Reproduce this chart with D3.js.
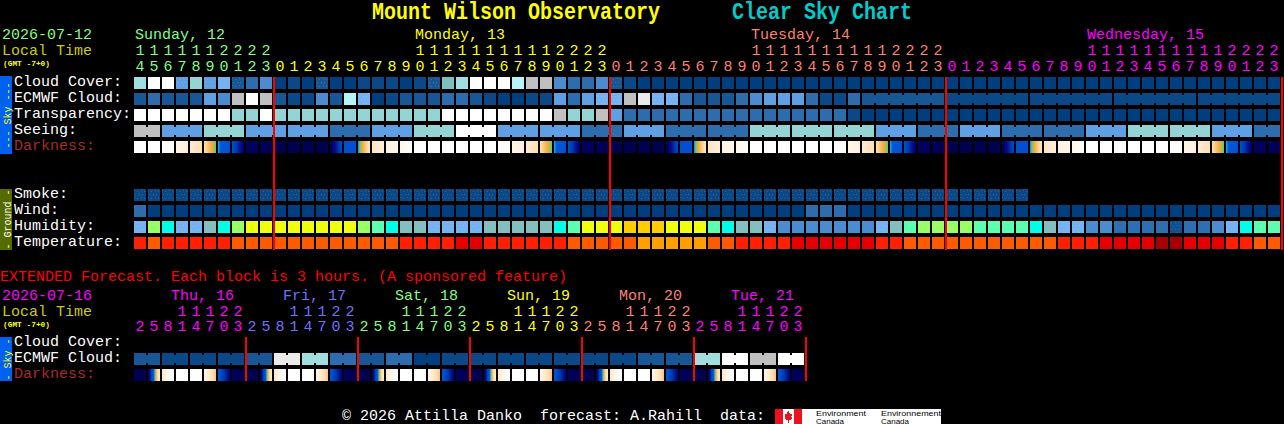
<!DOCTYPE html>
<html><head><meta charset="utf-8">
<script src="https://cdn.jsdelivr.net/npm/d3@7/dist/d3.min.js"></script>
<style>
html,body{margin:0;padding:0;background:#000;overflow:hidden}
svg{display:block}
text{font-family:"Liberation Mono",monospace;font-size:15px;white-space:pre}
</style></head><body>
<svg id="c" width="1284" height="424"></svg>
<script>
const hours=[14,15,16,17,18,19,20,21,22,23,0,1,2,3,4,5,6,7,8,9,10,11,12,13,14,15,16,17,18,19,20,21,22,23,0,1,2,3,4,5,6,7,8,9,10,11,12,13,14,15,16,17,18,19,20,21,22,23,0,1,2,3,4,5,6,7,8,9,10,11,12,13,14,15,16,17,18,19,20,21,22,23];
const cloudCover=[9,13,13,5,8,5,6,2,3,4,0,1,0,2,0,0,1,1,1,0,1,2,7,9,13,13,13,10,11,11,4,3,3,4,2,1,0,0,0,0,0,0,0,0,0,0,0,0,0,0,0,0,0,0,0,0,0,0,0,0,0,0,0,0,0,0,0,0,0,0,0,0,0,0,0,0,0,0,0,0,0,0];
const ecmwfCloud=[2,3,2,2,2,5,4,11,13,11,2,1,1,4,2,10,6,0,1,2,2,2,3,3,2,1,0,0,1,1,5,3,5,6,6,11,12,6,6,3,2,2,2,3,4,5,5,5,3,1,1,3,2,2,2,2,2,2,1,1,1,1,1,1,1,1,1,1,1,1,1,1,1,1,1,1,1,1,1,1,1,1];
const transparency=[13,13,13,13,13,13,13,8,8,13,8,8,8,8,8,8,8,8,8,8,8,8,13,13,13,13,13,13,13,13,11,8,8,11,5,3,3,3,3,3,3,3,3,3,3,3,3,3,3,3,3,1,0,0,0,0,0,0,0,0,0,0,0,0,0,0,0,0,0,0,0,0,0,0,0,0,0,0,0,0,0,0];
const seeing=[11,11,5,5,5,8,8,8,5,5,5,5,5,5,3,3,3,5,5,5,8,8,8,13,13,13,5,5,5,5,5,5,3,3,3,5,5,5,3,3,3,3,3,3,8,8,8,8,8,8,8,8,8,5,5,5,3,3,3,5,5,5,3,3,3,3,3,3,5,5,5,8,8,8,8,8,8,5,5,5,3,3];
const darkLeft=[0,0,0,1,2,3,5,6.3,8.4,8.8,9,9,9,9,8.5,6.2,5,2.4,1.4,.8,0,0,0,0,0,0,0,1,2,3,5,6.3,8.4,8.8,9,9,9,9,8.5,6.2,5,2.4,1.4,.8,0,0,0,0,0,0,0,1,2,3,5,6.3,8.4,8.8,9,9,9,9,8.5,6.2,5,2.4,1.4,.8,0,0,0,0,0,0,0,1,2,3,5,6.3,8.4,8.8];
const darkRight=[0,0,.5,1.8,2.8,4.7,6.2,8.2,8.6,8.8,9,9,9,9,6.6,6.2,2.6,1.6,1,.3,0,0,0,0,0,0,.5,1.6,2.8,4.7,6.2,8.2,8.6,8.8,9,9,9,9,6.6,6.2,2.6,1.6,1,.3,0,0,0,0,0,0,.5,1.6,2.8,4.7,6.2,8.2,8.6,8.8,9,9,9,9,6.6,6.2,2.6,1.6,1,.3,0,0,0,0,0,0,.5,1.6,2.8,4.7,6.2,8.2,8.6,8.8];
const smoke=[1,1,1,1,1,1,1,1,1,1,1,1,1,1,1,1,1,1,1,1,1,1,1,1,1,1,1,1,1,1,1,1,1,1,1,1,1,1,1,1,1,1,1,1,1,1,1,1,1,1,1,1,1,1,1,1,1,1,1,1,1,1,1,1];
const wind=[3,0,0,0,0,0,0,0,0,0,0,0,0,0,0,0,0,0,0,0,0,0,0,0,0,0,0,0,0,0,0,0,0,0,0,0,0,0,0,0,0,0,0,0,0,0,0,0,3,3,3,0,0,0,0,0,0,0,0,0,0,0,0,0,0,0,0,0,0,0,0,0,0,0,0,0,0,0,0,0,0,0];
const humidity=[3,7,5,3,3,4,5,7,8,8,8,8,8,8,8,8,7,6,5,4,4,3,3,3,3,4,4,4,4,4,5,6,8,8,8,9,9,9,8,8,8,6,5,4,4,3,2,2,2,2,2,2,2,3,4,6,7,7,7,7,6,6,6,6,5,4,3,3,2,2,1,1,1,1,0,1,1,2,3,5,6,6];
const temperature=[3,4,3,3,3,3,3,4,4,4,4,4,4,4,4,4,4,4,4,3,3,3,3,2,2,3,3,3,3,3,3,4,4,4,4,4,5,5,5,5,5,4,4,3,3,3,3,2,2,2,2,2,2,3,3,4,4,4,4,4,4,4,4,4,4,4,3,3,3,2,2,2,2,1,1,2,2,2,3,3,4,4];
const extHours=[2,5,8,11,14,17,20,23,2,5,8,11,14,17,20,23,2,5,8,11,14,17,20,23,2,5,8,11,14,17,20,23,2,5,8,11,14,17,20,23,2,5,8,11,14,17,20,23];
const extEcmwf=[2,1,1,1,2,12,9,3,2,3,0,1,1,1,1,1,1,1,2,2,9,13,11,13];
const extDarkLeft=[9,8.5,2,0,0,1,6,8.5,9,8.5,2,0,0,1,6,8.5,9,8.5,2,0,0,1,6,8.5,9,8.5,2,0,0,1,6,8.5,9,8.5,2,0,0,1,6,8.5,9,8.5,2,0,0,1,6,8.5];
const extDarkRight=[9,2,0,0,0,3.5,8,9,9,2,0,0,0,3.5,8,9,9,2,0,0,0,3.5,8,9,9,2,0,0,0,3.5,8,9,9,2,0,0,0,3.5,8,9,9,2,0,0,0,3.5,8,9];
const dayLabels=["Sunday, 12","Monday, 13","Tuesday, 14","Wednesday, 15"];
const dayLabelCols=[0,20,44,68];
const dayFirstCols=[0,10,34,58];
const extDayLabels=["Thu, 16","Fri, 17","Sat, 18","Sun, 19","Mon, 20","Tue, 21"];
const skyRows=["Cloud Cover:","ECMWF Cloud:","Transparency:","Seeing:","Darkness:"];
const groundRows=["Smoke:","Wind:","Humidity:","Temperature:"];
const extRows=["Cloud Cover:","ECMWF Cloud:","Darkness:"];

const cloudColors=["#003f7f","#0a4888","#175796","#2d6dad","#4b8bd0","#5f9fe3","#74b2f2","#80bfbf","#95d4d4","#a0dfdf","#b5f5f5","#c0c0c0","#eaeaea","#ffffff"];
const humidColors=["#0f5090","#2d6fb0","#4b8bd0","#74b2f2","#84bfbf","#00ffe8","#5affb0","#99ff66","#eeff10","#ffcc00"];
const tempColors=["#800000","#a80000","#e40000","#ff2000","#ff5a00","#ffa000"];
const green="#80ff80",yel="#ffff00",pink="#ff8070",mag="#ff00ff",blu="#7070ff";

const cloudScale=d3.scaleOrdinal(d3.range(cloudColors.length),cloudColors);
const humidScale=d3.scaleOrdinal(d3.range(humidColors.length),humidColors);
const tempScale=d3.scaleOrdinal(d3.range(tempColors.length),tempColors);
const darkScale=d3.scaleLinear()
 .domain([0,1,2,3,4,4.7,4.9,5,5.2,6.2,7,7.6,8.2,9])
 .range(["#ffffff","#fff6ea","#ffeacf","#ffdcab","#ffae40","#80c060","#20b0c0","#00a8f0","#0058dc","#0050d0","#0038b4","#001490","#000068","#000050"]);

const x=d3.scaleLinear().domain([0,82]).range([134,1282]);
const BW=12,BH=12;
const svg=d3.select("#c");
const defs=svg.append("defs");
const pat=defs.append("pattern").attr("id","sp").attr("width",7).attr("height",7).attr("patternUnits","userSpaceOnUse");
[[1,1],[4,2],[6,5],[2,5]].forEach(([a,b])=>pat.append("rect").attr("x",a).attr("y",b).attr("width",1).attr("height",1).attr("fill","#ffffff").attr("fill-opacity",.14));
const g=svg.append("g").attr("shape-rendering","crispEdges");

function text(t,px,py,fill,o={}){
 const e=svg.append("text").attr("x",px).attr("y",py).attr("fill",fill).text(t)
  .style("font-size",(o.size||15)+"px").style("font-weight",o.bold?"bold":null)
  .style("font-family",o.family||null)
  .attr("text-anchor",o.anchor||"start");
 if(o.fit)e.attr("textLength",o.fit).attr("lengthAdjust","spacingAndGlyphs");
 return e;
}
function row(values,scale,y,bridge,speckled){
 const r=g.append("g");
 r.selectAll("rect.b").data(values).join("rect").attr("class","b")
  .attr("x",(d,i)=>x(i)).attr("y",y).attr("width",BW).attr("height",BH).attr("fill",d=>scale(d));
 r.selectAll("rect.n").data(values.map((d,i)=>({d,i})).filter(e=>bridge&&bridge(e.i)&&e.i<values.length-1)).join("rect").attr("class","n")
  .attr("x",e=>x(e.i)+BW).attr("y",y+2).attr("width",x(1)-x(0)-BW).attr("height",BH-4).attr("fill",e=>scale(e.d));
 if(speckled)r.selectAll("rect.s").data(values.map((d,i)=>({d,i})).filter(e=>speckled.includes(e.d))).join("rect").attr("class","s")
  .attr("x",e=>x(e.i)).attr("y",y).attr("width",BW).attr("height",BH).attr("fill","url(#sp)");
}
function darkRow(left,right,y){
 const r=g.append("g");
 left.forEach((l,i)=>{
  const t=d3.scaleLinear().domain([0,BW-1]).range([l,right[i]]);
  r.selectAll(null).data(d3.range(BW)).join("rect")
   .attr("x",p=>x(i)+p).attr("y",y).attr("width",1).attr("height",BH).attr("fill",p=>darkScale(t(p)));
 });
}
function sidebar(y0,y1,fill,label,color,cy){
 g.append("rect").attr("x",0).attr("y",y0).attr("width",12).attr("height",y1-y0).attr("fill",fill);
 svg.append("text").attr("transform",`translate(10.5,${cy}) rotate(-90)`).attr("text-anchor","middle")
  .attr("fill",color).style("font-size","10px").text(label);
}
function redLines(xs,y0,y1){
 g.selectAll(null).data(xs).join("rect").attr("x",d=>d).attr("y",y0).attr("width",2).attr("height",y1-y0).attr("fill","#ff0000");
}

// Title
text("Mount Wilson Observatory",372,19,"#ffff00",{size:24,bold:true,fit:288});
text("Clear Sky Chart",732,19,"#00cccc",{size:24,bold:true,fit:180});

// Left header
text("2026-07-12",2,39,green);
text("Local Time",2,55,"#cccc00");
text("(GMT -7+0)",3,65.5,"#ffff00",{size:7.5,bold:true,fit:47});

// Day labels and hour labels
const dayColor=[green,yel,pink,mag];
const colColor=i=>dayColor[d3.bisectRight(dayFirstCols,i)-1];
dayLabels.forEach((t,k)=>text(t,x(dayLabelCols[k])+1,39,dayColor[k]));
hours.forEach((h,i)=>{
 const cx=x(i)+6;
 if(h>=10)text(String(Math.floor(h/10)),cx,55,colColor(i),{anchor:"middle"});
 text(String(h%10),cx,71,colColor(i),{anchor:"middle"});
});

// Sky rows
const rowY=d3.scalePoint().domain(skyRows).range([77,141]);
skyRows.forEach((t,k)=>text(t,14,rowY(t)+9,k==4?"#a52a2a":"#ffffff"));
row(cloudCover,cloudScale,rowY(skyRows[0]),null,[2,5]);
row(ecmwfCloud,cloudScale,rowY(skyRows[1]),i=>i>=52&&(i-52)%6!==5,[6,10]);
row(transparency,cloudScale,rowY(skyRows[2]));
row(seeing,cloudScale,rowY(skyRows[3]),i=>i<2?i==0:(i-2)%3!==2);
darkRow(darkLeft,darkRight,rowY(skyRows[4]));

// Ground rows
const gY=d3.scalePoint().domain(groundRows).range([189,237]);
groundRows.forEach(t=>text(t,14,gY(t)+9,"#ffffff"));
row(smoke,cloudScale,gY("Smoke:"),null,[1]);
row(wind,cloudScale,gY("Wind:"));
row(humidity,humidScale,gY("Humidity:"),null,[3,0]);
row(temperature,tempScale,gY("Temperature:"));

redLines([0,1,2,3].map(k=>x(10+24*k)-1),77,250);
sidebar(76,154,"#0060f0","--- Sky ---","#ffff00",115.5);
sidebar(189,250,"#556b00","- Ground -","#ffffff",219.5);

// Extended
text("EXTENDED Forecast. Each block is 3 hours. (A sponsored feature)",0,281,"#ff0000");
text("2026-07-16",2,300,mag);
text("Local Time",2,316,"#cccc00");
text("(GMT -7+0)",3,326.5,"#ffff00",{size:7.5,bold:true,fit:47});
const xe=d3.scaleLinear().domain([0,48]).range([134,806]);
const extColor=[mag,blu,green,yel,pink,mag];
extDayLabels.forEach((t,k)=>text(t,xe(8*k+3)-5,300,extColor[k]));
extHours.forEach((h,i)=>{
 const c=extColor[Math.floor(i/8)],cx=xe(i)+6;
 if(h>=10)text(String(Math.floor(h/10)),cx,316,c,{anchor:"middle"});
 text(String(h%10),cx,331,c,{anchor:"middle"});
});
const eY=d3.scalePoint().domain(extRows).range([337,369]);
extRows.forEach((t,k)=>text(t,14,eY(t)+9,k==2?"#a52a2a":"#ffffff"));
// six-hour ECMWF cells, each spanning two columns with a notch between them
const er=g.append("g");
extEcmwf.forEach((v,k)=>{
 [0,1].forEach(j=>er.append("rect").attr("x",xe(2*k+j)).attr("y",353).attr("width",BW).attr("height",BH).attr("fill",cloudScale(v)));
 er.append("rect").attr("x",xe(2*k)+BW).attr("y",355).attr("width",2).attr("height",8).attr("fill",cloudScale(v));
});
darkRow(extDarkLeft,extDarkRight,369);
g.selectAll(null).data(d3.range(1,7)).join("rect").attr("x",k=>xe(8*k)-1).attr("y",337).attr("width",2).attr("height",44).attr("fill","#ff0000");
sidebar(337,381,"#0060f0","- Sky -","#ffff00",359.5);

// Footer
text("\u00a9 2026 Attilla Danko  forecast: A.Rahill  data:",342,420,"#ffffff");
g.append("rect").attr("x",775).attr("y",409).attr("width",166).attr("height",15).attr("fill","#ffffff");
g.append("rect").attr("x",775).attr("y",409).attr("width",8).attr("height",15).attr("fill","#ee1122");
g.append("rect").attr("x",794).attr("y",409).attr("width",8).attr("height",15).attr("fill","#ee1122");
g.append("path").attr("d","M788.5 411 l2 3 1.5 -.5 -.5 3 1.5 0 -2 3 -2 0 0 3 -1 0 0 -3 -2 0 -2 -3 1.5 0 -.5 -3 1.5 .5 z").attr("fill","#ee1122");
[["Environment",50,"Canada",28,816],["Environnement",60,"Canada",28,881]].forEach(([a,aw,b,bw,px])=>{
 text(a,px,415.5,"#000000",{size:7,family:"Liberation Sans",fit:aw});
 text(b,px,423.5,"#000000",{size:7,family:"Liberation Sans",fit:bw});
});
</script>
</body></html>
